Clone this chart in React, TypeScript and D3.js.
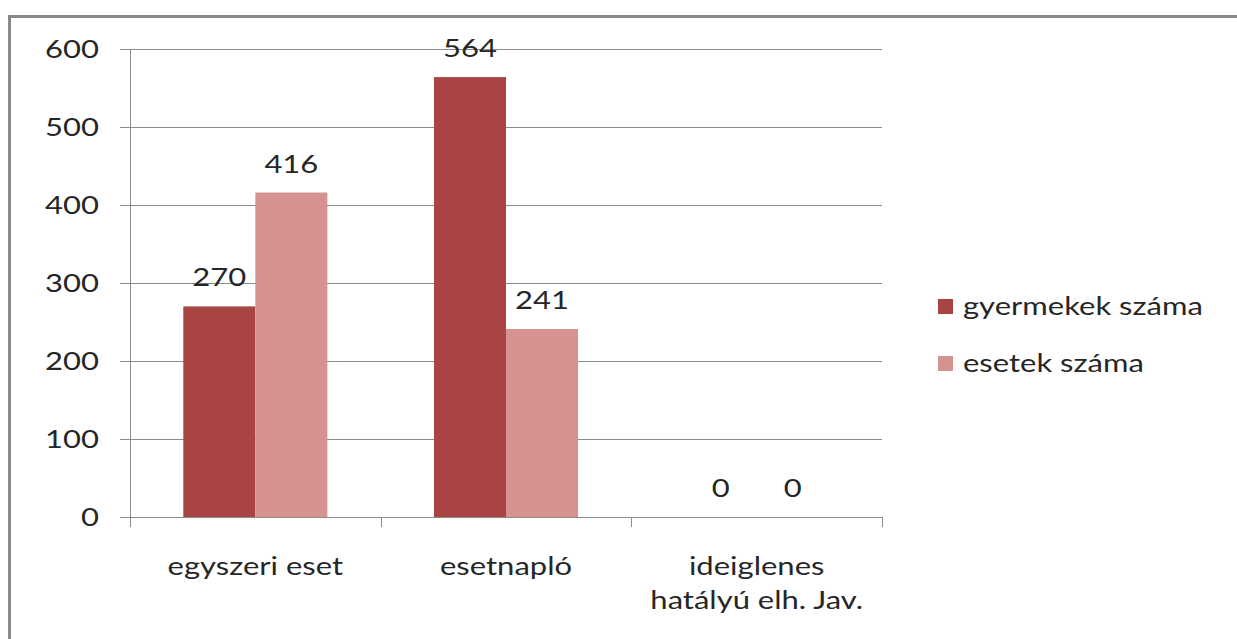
import * as d3 from 'd3'

const categories = ['egyszeri eset', 'esetnapló', 'ideiglenes\nhatályú elh. Jav.']
const seriesNames = ['gyermekek száma', 'esetek száma']
const gyermekek = [270, 564, 0]
const esetek = [416, 241, 0]
const yTicks = [0, 100, 200, 300, 400, 500, 600]
const colors = ['#A84542', '#D49391']

const width = 1237
const height = 639
const marginLeft = 130
const plotRight = 882
const plotTop = 49
const plotBottom = 517
const font = 'Lato, "Open Sans", sans-serif'
const sx = 1.24

const App = () => {
	const x = d3.scaleBand().domain(categories).range([marginLeft, plotRight]).paddingInner(0).paddingOuter(0)
	const inner = d3.scaleBand().domain(seriesNames).range([0, x.bandwidth()]).paddingOuter(0.74).paddingInner(0)
	const y = d3.scaleLinear().domain([0, 600]).range([plotBottom, plotTop])
	const series = [gyermekek, esetek]

	// stretched text like the original picture
	const Txt = ({ x: tx, y: ty, anchor, children }) => (
		<text
			transform={`translate(${tx},${ty}) scale(${sx},1)`}
			textAnchor={anchor}
			fontFamily={font}
			fontSize={25}
			fill="#262626"
		>
			{children}
		</text>
	)

	return (
		<svg width={width} height={height} style={{ position: 'absolute', left: 0, top: 0 }}>
			<rect x={0} y={0} width={width} height={height} fill="#fff" />
			<rect x={9.5} y={16.5} width={1300} height={700} fill="none" stroke="#8a8a8a" strokeWidth={3} />

			{/* grid */}
			{yTicks.map((t) => (
				<g key={t}>
					<line x1={marginLeft - 10} x2={plotRight} y1={y(t) + 0.5} y2={y(t) + 0.5} stroke="#8c8c8c" strokeWidth={1} />
					<Txt x={99} y={y(t) + 9} anchor="end">
						{t}
					</Txt>
				</g>
			))}
			<line x1={marginLeft + 0.5} x2={marginLeft + 0.5} y1={plotTop} y2={plotBottom} stroke="#8c8c8c" />
			{[0, 1, 2, 3].map((i) => {
				const px = Math.round(marginLeft + i * x.bandwidth()) + 0.5
				return <line key={i} x1={px} x2={px} y1={plotBottom} y2={plotBottom + 10} stroke="#8c8c8c" />
			})}

			{/* bars */}
			{categories.map((c, ci) => (
				<g key={c}>
					{seriesNames.map((s, si) => {
						const v = series[si][ci]
						const bx = x(c) + inner(s)
						const cx = bx + inner.bandwidth() / 2
						return (
							<g key={s}>
								<rect x={bx} y={y(v)} width={inner.bandwidth()} height={y(0) - y(v)} fill={colors[si]} />
								<Txt x={cx} y={y(v) - 20} anchor="middle">
									{v}
								</Txt>
							</g>
						)
					})}
					{c.split('\n').map((line, li) => (
						<Txt key={li} x={x(c) + x.bandwidth() / 2} y={575 + li * 34} anchor="middle">
							{line}
						</Txt>
					))}
				</g>
			))}

			{/* legend */}
			{seriesNames.map((s, i) => (
				<g key={s}>
					<rect x={938} y={299 + i * 57} width={15} height={15} fill={colors[i]} />
					<Txt x={963} y={315 + i * 57} anchor="start">
						{s}
					</Txt>
				</g>
			))}
		</svg>
	)
}

export default App
